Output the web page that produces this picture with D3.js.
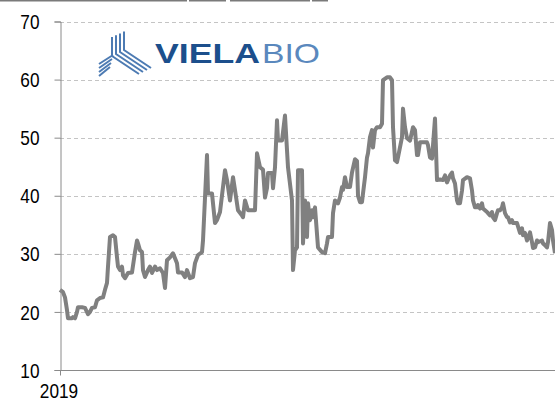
<!DOCTYPE html>
<html>
<head>
<meta charset="utf-8">
<script src="https://cdn.jsdelivr.net/npm/d3@7"></script>
<style>
  html, body { margin: 0; padding: 0; background: #fff; }
  svg { display: block; font-family: Arial, "Liberation Sans", sans-serif; }
</style>
</head>
<body>
<svg id="chart" width="555" height="405"></svg>
<script>
// days since first trading day (2019-10-03)
const days = [0, 3, 5, 7, 8, 12, 13, 15, 17, 18, 22, 25, 28, 30, 32, 35, 37, 40, 43, 45,
  47, 48, 50, 53, 55, 57, 58, 60, 62, 63, 65, 68, 72, 75, 77, 78, 80, 82, 83, 85,
  88, 90, 92, 95, 97, 100, 103, 105, 107, 110, 113, 117, 118, 122, 125, 127, 130, 133, 135, 138,
  142, 143, 147, 148, 152, 155, 157, 160, 163, 165, 167, 170, 173, 175, 178, 182, 183, 185, 188, 195,
  197, 200, 203, 205, 207, 208, 212, 213, 215, 217, 218, 222, 225, 228, 232, 233, 235, 237, 238, 242,
  243, 245, 247, 248, 250, 252, 253, 255, 258, 262, 265, 267, 268, 272, 273, 275, 278, 280, 282, 283,
  285, 287, 290, 292, 295, 297, 298, 300, 302, 303, 305, 307, 308, 310, 312, 313, 315, 317, 320, 322,
  323, 327, 330, 332, 333, 335, 337, 338, 342, 343, 345, 347, 350, 353, 355, 357, 358, 360, 367, 368,
  370, 372, 375, 377, 380, 383, 385, 387, 390, 392, 393, 395, 397, 398, 400, 402, 403, 407, 410, 412,
  413, 415, 417, 418, 420, 422, 423, 427, 428, 430, 432, 433, 435, 437, 438, 440, 442, 443, 445, 447,
  448, 450, 452, 453, 457, 460, 462, 463, 465, 467, 468, 470, 472, 473, 475, 477, 478, 482, 483, 485,
  487, 488, 490, 492, 493, 495];
const prices = [23.8, 23.4, 22.5, 20.3, 18.9, 18.9, 19.1, 18.9, 20.0, 20.8, 20.8, 20.7, 19.6, 20.0, 20.7, 20.8, 22.0, 22.4, 22.5, 23.8,
  25.0, 27.8, 32.9, 33.2, 32.9, 29.4, 27.8, 27.2, 27.8, 26.3, 25.8, 26.7, 26.8, 30.3, 32.3, 31.8, 30.6, 30.3, 27.2, 26.0,
  27.2, 27.8, 26.7, 27.8, 27.2, 27.5, 26.7, 24.1, 28.9, 29.4, 30.1, 28.4, 26.8, 26.8, 26.0, 27.2, 25.8, 26.0, 28.4, 29.8,
  30.3, 32.3, 47.0, 40.4, 40.4, 35.3, 35.8, 37.2, 41.5, 44.4, 42.7, 39.2, 43.2, 41.0, 37.5, 36.6, 36.3, 39.2, 37.5, 37.5,
  47.3, 44.9, 44.5, 39.7, 41.3, 43.9, 43.9, 41.3, 44.9, 53.0, 49.5, 49.5, 53.8, 44.9, 39.2, 27.2, 30.6, 31.1, 44.4, 44.4,
  31.8, 39.2, 32.9, 38.7, 35.8, 37.5, 36.3, 38.0, 31.1, 30.3, 30.1, 31.8, 32.9, 32.9, 37.0, 39.2, 38.7, 39.7, 41.5, 41.0,
  43.2, 41.5, 41.5, 44.0, 46.3, 46.0, 40.0, 38.9, 38.9, 40.4, 43.2, 46.6, 47.3, 50.1, 51.3, 48.3, 51.3, 51.8, 51.8, 52.4,
  59.9, 60.4, 60.4, 59.9, 51.8, 46.1, 45.8, 46.6, 50.1, 55.0, 51.8, 49.9, 49.5, 51.8, 51.3, 47.0, 47.0, 49.2, 49.2, 48.7,
  46.6, 46.4, 53.3, 42.7, 42.8, 42.7, 43.5, 42.3, 43.5, 44.0, 43.0, 42.1, 39.2, 38.7, 38.7, 40.9, 42.7, 43.2, 43.0, 40.9,
  39.2, 38.0, 38.0, 38.4, 37.8, 38.7, 37.8, 37.2, 37.0, 36.6, 37.2, 36.3, 35.8, 37.0, 37.5, 37.5, 38.0, 38.7, 37.0, 36.3,
  36.3, 35.4, 35.8, 35.3, 35.3, 33.6, 34.4, 33.2, 33.6, 32.3, 32.7, 33.7, 32.0, 31.0, 31.1, 32.3, 32.0, 32.3, 31.8, 31.5,
  31.1, 32.0, 35.3, 34.1, 32.3, 30.1];

const startDate = new Date(2019, 9, 3);
const yTicks = [10, 20, 30, 40, 50, 60, 70];
const gridTicks = [20, 30, 40, 50, 60, 70];
const xTickLabels = ["2019"];
// cropped table border at the very top of the picture
const borderSegments = [[0, 187], [189, 226], [230, 310], [312, 328]];

const svg = d3.select("#chart");
const margin = { left: 60, right: 0, top: 21.5, bottom: 35 };
const W = 555, H = 405;

const toDate = d => d3.timeDay.offset(startDate, d);
const x = d3.scaleTime()
  .domain([startDate, toDate(d3.max(days))])
  .range([margin.left, W - margin.right]);
const y = d3.scaleLinear()
  .domain([10, 70])
  .range([H - margin.bottom, margin.top]);

// top border lines
svg.append("g")
  .selectAll("line")
  .data(borderSegments)
  .join("line")
  .attr("x1", d => d[0]).attr("x2", d => d[1])
  .attr("y1", 0.5).attr("y2", 0.5)
  .attr("stroke", "#7a7a7a")
  .attr("stroke-width", 2);

// gridlines
svg.append("g")
  .selectAll("line")
  .data(gridTicks)
  .join("line")
  .attr("x1", margin.left).attr("x2", W)
  .attr("y1", d => Math.round(y(d)) + 0.5).attr("y2", d => Math.round(y(d)) + 0.5)
  .attr("stroke", "#c4c4c4")
  .attr("stroke-dasharray", "4,3");

// logo
const logo = svg.append("g").attr("class", "logo");
const stripe = "#4d7bb3";
for (let k = 0; k < 4; k++) {
  const vx = 112 + k * 4;
  // vertical arm bending into the right arm
  logo.append("path")
    .attr("d", `M${vx},${37 - k * 1.8} L${vx},${56 - k * 2} l27,18`)
    .attr("fill", "none").attr("stroke", stripe).attr("stroke-width", 2);
  // left arm
  logo.append("path")
    .attr("d", `M${99},${64 + k * 4} l${14 - k},-9`)
    .attr("fill", "none").attr("stroke", stripe).attr("stroke-width", 2);
}
logo.append("text")
  .attr("x", 155).attr("y", 63)
  .attr("font-size", 28).attr("font-weight", "bold")
  .attr("fill", "#1c4f8c")
  .attr("textLength", 105).attr("lengthAdjust", "spacingAndGlyphs")
  .text("VIELA");
logo.append("text")
  .attr("x", 262).attr("y", 63)
  .attr("font-size", 28)
  .attr("fill", "#5a88bd")
  .attr("textLength", 58).attr("lengthAdjust", "spacingAndGlyphs")
  .text("BIO");

// price line
const line = d3.line()
  .x((d, i) => x(toDate(days[i])))
  .y(d => y(d));
svg.append("path")
  .datum(prices)
  .attr("fill", "none")
  .attr("stroke", "#808080")
  .attr("stroke-width", 4)
  .attr("stroke-linejoin", "round")
  .attr("d", line);

// y axis
const yAxis = svg.append("g")
  .attr("transform", `translate(${margin.left + 0.5},0)`)
  .call(d3.axisLeft(y).tickValues(yTicks).tickSize(6).tickFormat(d3.format("d")));
yAxis.select(".domain").attr("stroke", "#8a8a8a");
yAxis.selectAll(".tick line").attr("stroke", "#8a8a8a");
yAxis.selectAll(".tick text")
  .attr("x", 0).attr("dy", null).attr("dominant-baseline", "central")
  .attr("text-anchor", "end")
  .attr("font-size", 21)
  .attr("fill", "#000")
  .attr("transform", "translate(-21,0) scale(0.82,1)");

// x axis
const xAxis = svg.append("g")
  .attr("transform", `translate(0,${y(10) + 0.5})`)
  .call(d3.axisBottom(x).tickValues([startDate]).tickSize(5)
    .tickFormat((d, i) => xTickLabels[i]));
xAxis.select(".domain").attr("stroke", "#8a8a8a").attr("d", `M${margin.left},0H${W}`);
xAxis.selectAll(".tick line").attr("stroke", "#8a8a8a");
xAxis.selectAll(".tick text")
  .attr("y", 0).attr("dy", null)
  .attr("font-size", 21)
  .attr("fill", "#000")
  .attr("transform", "translate(-1.5,27) scale(0.82,1)");
</script>
</body>
</html>
